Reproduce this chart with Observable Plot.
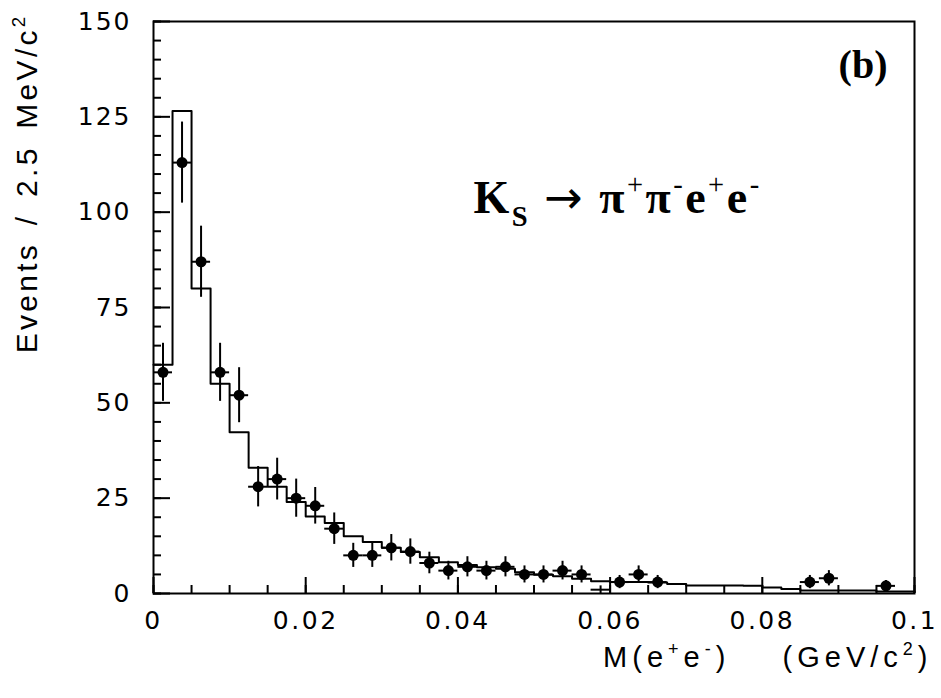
<!DOCTYPE html>
<html>
<head>
<meta charset="utf-8">
<script src="https://cdn.jsdelivr.net/npm/d3@7"></script>
<script src="https://cdn.jsdelivr.net/npm/@observablehq/plot@0.6"></script>
<style>
  html, body { margin: 0; padding: 0; background: #fff; }
  #chart svg { display: block; }
  #chart svg text { white-space: pre; }
  g[aria-label="x-axis tick label"] text { letter-spacing: 2.5px; }
  g[aria-label="y-axis tick label"] text { letter-spacing: 2px; }
</style>
</head>
<body>
<div id="chart"></div>
<script>
// ---- data ----
const binWidth = 0.0025; // GeV/c^2 (2.5 MeV)
// Monte Carlo histogram, one value per 2.5 MeV bin from 0 to 0.1
const mcCounts = [60, 126.5, 80, 55, 42.3, 33, 28, 24, 20.2, 18.5,
                  15, 13.5, 12, 10.9, 9.5, 8.2, 7.5, 6.9, 6.5, 5.6,
                  4.9, 4.5, 3.9, 3.2, 3.0, 3.0, 2.9, 2.5, 2.1, 2.1,
                  2.1, 2.0, 1.6, 1.2, 0.8, 0.8, 0.8, 0.8, 0.5, 0.5];
// Data points: bin index and event count
const dataBins   = [0, 1, 2, 3, 4, 5, 6, 7, 8, 9, 10, 11, 12, 13, 14, 15, 16, 17, 18, 19, 20, 21, 22, 23, 24, 25, 26, 34, 35, 38];
const dataCounts = [58, 113, 87, 58, 52, 28, 30, 25, 23, 17, 10, 10, 12, 11, 8, 6, 7, 6, 7, 5, 5, 6, 5, 1, 3, 5, 3, 3, 4, 2];

const xTicks = [0, 0.02, 0.04, 0.06, 0.08, 0.1];
const xTickLabels = ["0", "0.02", "0.04", "0.06", "0.08", "0.1"];
const yTicks = [0, 25, 50, 75, 100, 125, 150];
const xMinorStep = 0.005;
const yMinorStep = 5;

const yTitle = "Events / 2.5 MeV/c^{2}";
const xTitle = "M(e^{+}e^{-})    (GeV/c^{2})";
const panelLabel = "(b)";
const formula = "K_{S} → π^{+}π^{-}e^{+}e^{-}";

// ---- derived tables ----
const histPoints = mcCounts.map((c, i) => ({x: i * binWidth, y: c}));
histPoints.push({x: mcCounts.length * binWidth, y: mcCounts[mcCounts.length - 1]});

const points = dataBins.map((b, i) => {
  const n = dataCounts[i], e = Math.sqrt(n);
  return {x0: b * binWidth, x1: (b + 1) * binWidth, xc: (b + 0.5) * binWidth,
          n, lo: Math.max(0, n - e), hi: n + e};
});

const xMinor = d3.range(0, 0.1 + 1e-9, xMinorStep);
const yMinor = d3.range(0, 150 + 1e-9, yMinorStep);

const sans = "'Liberation Sans', Arial, Helvetica, sans-serif";
const serif = "'Liberation Serif', 'Times New Roman', Times, serif";
const tickFont = "'DejaVu Sans', 'Liberation Sans', sans-serif";

const plot = Plot.plot({
  width: 941,
  height: 698,
  marginLeft: 153,
  marginRight: 27,
  marginTop: 21,
  marginBottom: 105,
  x: {domain: [0, 0.1], label: null},
  y: {domain: [0, 150], label: null},
  style: {fontFamily: sans, background: "#fff", color: "#000", overflow: "visible"},
  marks: [
    Plot.line(histPoints, {x: "x", y: "y", curve: "step-after", stroke: "#000", strokeWidth: 2}),
    Plot.ruleX(points, {x: "xc", y1: "lo", y2: "hi", stroke: "#000", strokeWidth: 2}),
    Plot.ruleY(points, {y: "n", x1: "x0", x2: "x1", stroke: "#000", strokeWidth: 2}),
    Plot.dot(points.filter(d => d.n > 1), {x: "xc", y: "n", r: 5.5, fill: "#000", stroke: null}),
    Plot.frame({stroke: "#000", strokeWidth: 2}),
    // inward ticks
    Plot.axisX(xMinor, {tickSize: -8, tickFormat: () => "", strokeWidth: 2}),
    Plot.axisX(xTicks, {tickSize: -16, tickFormat: () => "", strokeWidth: 2}),
    Plot.axisY(yMinor, {tickSize: -8, tickFormat: () => "", strokeWidth: 2}),
    Plot.axisY(yTicks, {tickSize: -17, tickFormat: () => "", strokeWidth: 2}),
    // tick labels
    Plot.axisX(xTicks, {tickSize: 0, tickPadding: 18, fontSize: 25, fontFamily: tickFont,
                        tickFormat: d => xTickLabels[xTicks.indexOf(d)]}),
    Plot.axisY(yTicks, {tickSize: 0, tickPadding: 22, fontSize: 25, fontFamily: tickFont}),
    // titles and annotations
    Plot.text([yTitle], {text: d => d, frameAnchor: "top-left", rotate: -90, textAnchor: "end", lineAnchor: "middle",
                         dx: -126, dy: -8, fontSize: 30, fontFamily: sans}),
    Plot.text([xTitle], {text: d => d, frameAnchor: "bottom-right", textAnchor: "end", lineAnchor: "middle",
                         dx: 18, dy: 64, fontSize: 29, fontFamily: sans}),
    Plot.text([panelLabel], {text: d => d, frameAnchor: "top-right", textAnchor: "end", lineAnchor: "middle",
                             dx: -27, dy: 44, fontSize: 40, fontWeight: "bold", fontFamily: serif}),
    Plot.text([formula], {text: d => d, frameAnchor: "top-left", textAnchor: "start", lineAnchor: "middle",
                          dx: 320, dy: 177, fontSize: 46, fontWeight: "bold", fontFamily: serif})
  ]
});

document.getElementById("chart").appendChild(plot);

// ---- rich text: turn ^{..} and _{..} into super/subscript tspans ----
function parseMarkup(s) {
  const parts = [];
  const re = /([\^_])\{([^}]*)\}/g;
  let last = 0, m;
  while ((m = re.exec(s))) {
    if (m.index > last) parts.push({t: s.slice(last, m.index), pos: null});
    parts.push({t: m[2], pos: m[1] === "^" ? "sup" : "sub"});
    last = re.lastIndex;
  }
  if (last < s.length) parts.push({t: s.slice(last), pos: null});
  return parts;
}
const NS = "http://www.w3.org/2000/svg";
plot.querySelectorAll("text").forEach(el => {
  const s = el.textContent;
  if (!/[\^_]\{/.test(s)) return;
  const base = parseFloat(getComputedStyle(el).fontSize) || 20;
  const isFormula = s === formula;
  while (el.firstChild) el.removeChild(el.firstChild);
  let shift = 0;
  for (const p of parseMarkup(s)) {
    // split normal text so that the arrow can be drawn in its own font in the formula
    const chunks = isFormula && !p.pos ? p.t.split(/(→)/).filter(x => x) : [p.t];
    for (const c of chunks) {
      const ts = document.createElementNS(NS, "tspan");
      const target = p.pos === "sup" ? -0.42 * base : p.pos === "sub" ? 0.28 * base : 0;
      if (target !== shift) ts.setAttribute("dy", target - shift);
      shift = target;
      if (p.pos) ts.setAttribute("font-size", 0.62 * base);
      if (isFormula && /[+\-]/.test(c)) ts.setAttribute("font-weight", "normal");
      if (isFormula && c === "→") {
        ts.setAttribute("font-weight", "normal");
        ts.setAttribute("font-family", "'DejaVu Sans', sans-serif");
      }
      ts.textContent = c;
      el.appendChild(ts);
    }
  }
});
// letter spacing for the sans-serif titles and the formula
plot.querySelectorAll("text").forEach(el => {
  const t = el.textContent;
  if (t.startsWith("Events")) { el.style.letterSpacing = "3.3px"; el.style.wordSpacing = "5px"; }
  if (t.startsWith("M(e")) el.style.letterSpacing = "5px";
  if (t.startsWith("KS")) el.style.letterSpacing = "2.5px";
});
</script>
</body>
</html>
